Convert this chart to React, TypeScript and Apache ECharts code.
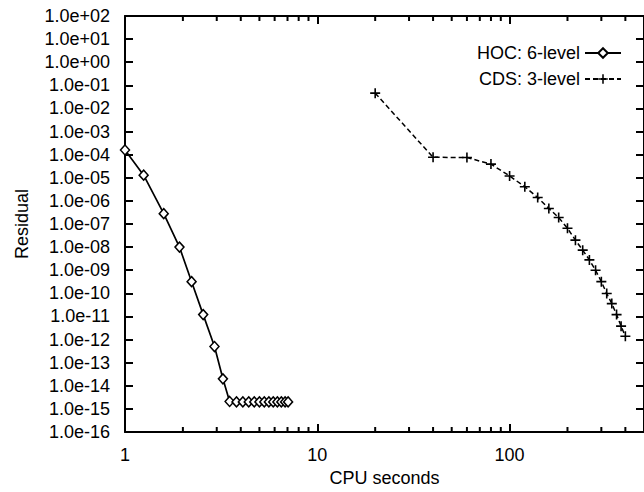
import React, { useEffect, useRef } from "react";
import * as echarts from "echarts";

const hocX = [1, 1.25, 1.59, 1.92, 2.22, 2.55, 2.92, 3.23, 3.5, 3.8, 4.1, 4.4, 4.7, 5.0, 5.3, 5.6, 5.9, 6.2, 6.5, 6.8, 7.05];
const hocY = [1.6e-4, 1.3e-5, 2.8e-7, 1e-8, 3.2e-10, 1.2e-11, 5e-13, 2e-14, 2.1e-15, 2e-15, 2e-15, 2e-15, 2e-15, 2e-15, 2e-15, 2e-15, 2e-15, 2e-15, 2e-15, 2e-15, 2e-15];
const cdsX = [20, 40, 60, 80, 100, 120, 140, 160, 180, 200, 220, 240, 260, 280, 300, 320, 340, 360, 380, 400];
const cdsY = [4.6e-2, 7.7e-5, 7.5e-5, 3.9e-5, 1.2e-5, 4.1e-6, 1.4e-6, 4.7e-7, 1.9e-7, 6.5e-8, 2.0e-8, 7.4e-9, 2.8e-9, 1.0e-9, 3.2e-10, 9.8e-11, 3.6e-11, 1.2e-11, 3.8e-12, 1.4e-12];
const minorTicks = [2, 3, 4, 5, 6, 7, 8, 9, 20, 30, 40, 50, 60, 70, 80, 90, 200, 300, 400];
const X_MIN = 1, X_MAX = 500, Y_MIN = 1e-16, Y_MAX = 100;

const FONT = "Liberation Sans, Arial, Helvetica, sans-serif";

function fmtExp(v: number) {
  const e = Math.round(Math.log10(v));
  return "1.0e" + (e < 0 ? "-" : "+") + String(Math.abs(e)).padStart(2, "0");
}

export default function App() {
  const ref = useRef<HTMLDivElement>(null);
  useEffect(() => {
    if (!ref.current) return;
    const chart = echarts.init(ref.current, undefined, { renderer: "svg" });
    const axisLine = { show: true, lineStyle: { color: "#000", width: 2 } };
    const tick = { show: true, inside: true, length: 8, lineStyle: { color: "#000", width: 2 } };
    const plus = "path://M4.2,0H5.8V4.2H10V5.8H5.8V10H4.2V5.8H0V4.2H4.2Z";
    chart.setOption({
      animation: false,
      backgroundColor: "#fff",
      textStyle: { fontFamily: FONT },
      grid: { left: 125, right: -5, top: 16, bottom: 55, containLabel: false },
      legend: {
        data: ["HOC: 6-level", "CDS: 3-level"],
        orient: "vertical",
        right: 17,
        top: 39,
        align: "right",
        itemWidth: 36,
        itemHeight: 12,
        itemGap: 8,
        textStyle: { fontSize: 18, color: "#000", fontFamily: FONT },
      },
      xAxis: [
        {
          type: "log",
          logBase: 10,
          min: X_MIN,
          max: X_MAX,
          position: "bottom",
          name: "CPU seconds",
          nameLocation: "middle",
          nameGap: 37,
          nameTextStyle: { fontSize: 18, color: "#000", fontFamily: FONT },
          axisLine,
          axisTick: tick,
          axisLabel: { fontSize: 18, color: "#000", margin: 14, showMaxLabel: false, fontFamily: FONT },
          splitLine: { show: false },
        },
        {
          type: "log",
          logBase: 10,
          min: X_MIN,
          max: X_MAX,
          position: "top",
          axisLine,
          axisTick: tick,
          axisLabel: { show: false },
          splitLine: { show: false },
        },
      ],
      yAxis: [
        {
          type: "log",
          logBase: 10,
          min: Y_MIN,
          max: Y_MAX,
          interval: 1,
          splitNumber: 18,
          position: "left",
          name: "Residual",
          nameLocation: "middle",
          nameGap: 94,
          nameRotate: 90,
          nameTextStyle: { fontSize: 18, color: "#000", fontFamily: FONT },
          axisLine,
          axisTick: tick,
          axisLabel: { fontSize: 18, color: "#000", margin: 15, formatter: fmtExp, fontFamily: FONT },
          splitLine: { show: false },
        },
        {
          type: "log",
          logBase: 10,
          min: Y_MIN,
          max: Y_MAX,
          interval: 1,
          splitNumber: 18,
          position: "right",
          axisLine,
          axisTick: tick,
          axisLabel: { show: false },
          splitLine: { show: false },
        },
      ],
      series: [
        {
          name: "minorBottom",
          type: "scatter",
          silent: true,
          clip: false,
          data: minorTicks.map((t) => [t, Y_MIN]),
          symbol: "rect",
          symbolSize: [2, 5],
          symbolOffset: [0, -2.5],
          itemStyle: { color: "#000", opacity: 1 },
        },
        {
          name: "minorTop",
          type: "scatter",
          silent: true,
          clip: false,
          data: minorTicks.map((t) => [t, Y_MAX]),
          symbol: "rect",
          symbolSize: [2, 5],
          symbolOffset: [0, 2.5],
          itemStyle: { color: "#000", opacity: 1 },
        },
        {
          name: "HOC: 6-level",
          type: "line",
          data: hocX.map((x, i) => [x, hocY[i]]),
          symbol: "diamond",
          symbolSize: [9, 10],
          showAllSymbol: true,
          lineStyle: { color: "#000", width: 1.7 },
          itemStyle: { color: "#fff", borderColor: "#000", borderWidth: 1.5 },
          color: "#000",
        },
        {
          name: "CDS: 3-level",
          type: "line",
          data: cdsX.map((x, i) => [x, cdsY[i]]),
          symbol: plus,
          symbolSize: 10,
          showAllSymbol: true,
          lineStyle: { color: "#000", width: 1.5, type: [5, 3] },
          itemStyle: { color: "#000", borderWidth: 0 },
          color: "#000",
        },
      ],
    });
    return () => chart.dispose();
  }, []);
  return <div ref={ref} style={{ position: "fixed", left: 0, top: 0, width: 644, height: 492 }} />;
}
